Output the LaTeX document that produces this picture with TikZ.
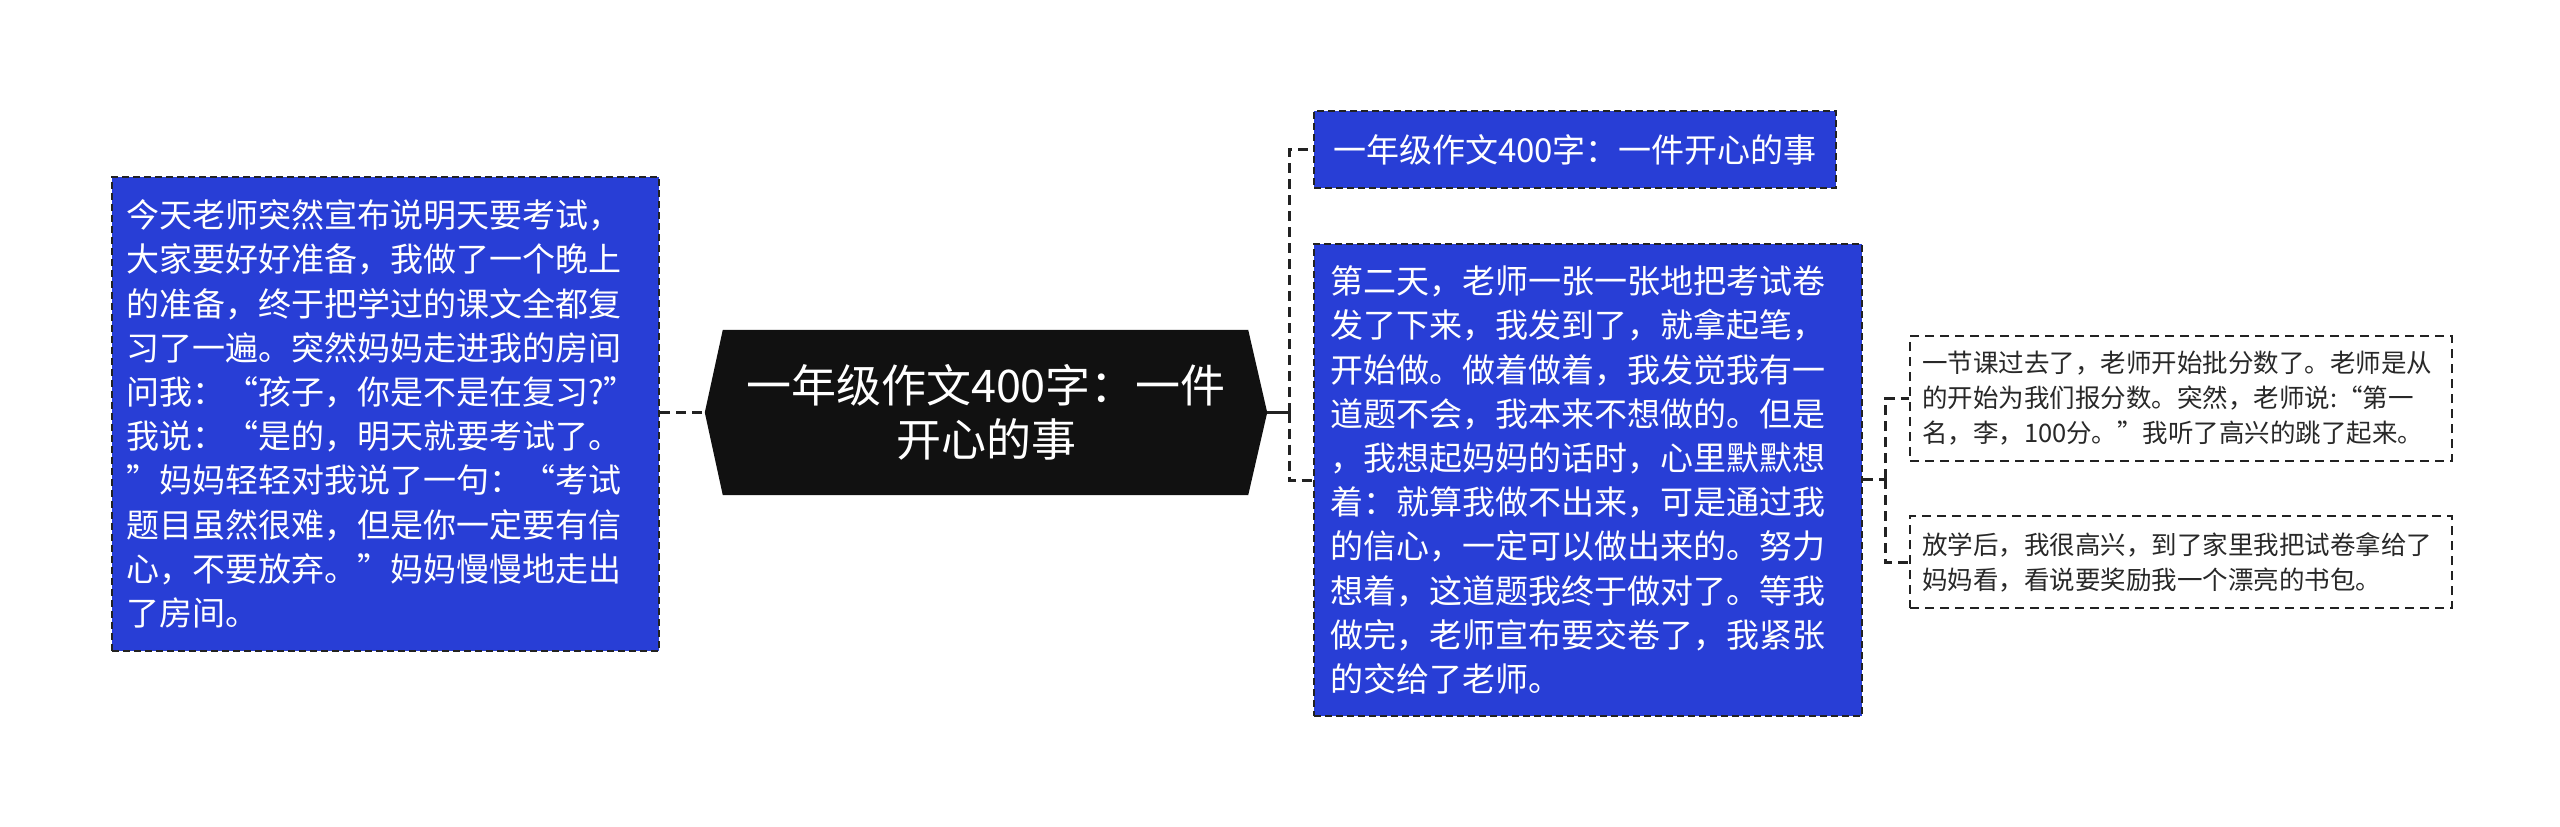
\documentclass[tikz,border=0pt]{standalone}
\usepackage{fontspec}
\setmainfont{Noto Sans CJK SC}
\usetikzlibrary{calc,backgrounds}
\definecolor{boxblue}{RGB}{40,62,214}
\definecolor{centerfill}{RGB}{17,17,17}
\definecolor{linegray}{RGB}{34,34,34}
\definecolor{smalltext}{RGB}{40,40,40}
\begin{document}
\begin{tikzpicture}[x=1pt,y=-1pt,
  bluebox/.style={draw=linegray, fill=boxblue, text=white, line width=2pt,
    dash pattern=on 7pt off 4pt, anchor=north west, inner ysep=0pt,
    font=\fontsize{33pt}{44.2pt}\selectfont, align=left},
  smallbox/.style={draw=linegray, fill=white, text=smalltext, line width=2pt,
    dash pattern=on 9pt off 6pt, anchor=north west, inner ysep=0pt,
    font=\fontsize{25.5pt}{35pt}\selectfont, align=left},
  centernode/.style={text=white, inner sep=0pt, align=center,
    font=\fontsize{45pt}{54pt}\selectfont},
  conn/.style={draw=linegray, line width=3pt, dash pattern=on 10pt off 6pt},
  solidconn/.style={draw=linegray, line width=3pt}
]
\begin{pgfonlayer}{background}
\fill[white] (0,0) rectangle (2560,827);
\end{pgfonlayer}
\useasboundingbox (0,0) rectangle (2560,827);

% left box
\node[bluebox, text width=519pt, inner xsep=14pt, minimum height=474pt] (left) at (111,176)
{今天老师突然宣布说明天要考试，\\
大家要好好准备，我做了一个晚上\\
的准备，终于把学过的课文全都复\\
习了一遍。突然妈妈走进我的房间\\
问我：“孩子，你是不是在复习?”\\
我说：“是的，明天就要考试了。\\
”妈妈轻轻对我说了一句：“考试\\
题目虽然很难，但是你一定要有信\\
心，不要放弃。”妈妈慢慢地走出\\
了房间。};

% center node
\node[centernode, minimum width=562pt, minimum height=165pt] (c) at (986,412.5)
{一年级作文400字：一件\\开心的事};
\begin{pgfonlayer}{background}
\fill[centerfill] (c.west) -- ($(c.north west)+(18,0)$) -- ($(c.north east)+(-19,0)$)
  -- (c.east) -- ($(c.south east)+(-19,0)$) -- ($(c.south west)+(18,0)$) -- cycle;
\end{pgfonlayer}

% right top box
\node[bluebox, text width=494pt, inner xsep=14pt, minimum height=77pt, align=center] (top) at (1313,110)
{一年级作文400字：一件开心的事};

% right middle box
\node[bluebox, text width=516pt, inner xsep=16pt, minimum height=472pt] (mid) at (1313,243)
{第二天，老师一张一张地把考试卷\\
发了下来，我发到了，就拿起笔，\\
开始做。做着做着，我发觉我有一\\
道题不会，我本来不想做的。但是\\
，我想起妈妈的话时，心里默默想\\
着：就算我做不出来，可是通过我\\
的信心，一定可以做出来的。努力\\
想着，这道题我终于做对了。等我\\
做完，老师宣布要交卷了，我紧张\\
的交给了老师。};

% small boxes
\node[smallbox, text width=518pt, inner xsep=12pt, minimum height=125pt] (s1) at (1909,335)
{一节课过去了，老师开始批分数了。老师是从\\
的开始为我们报分数。突然，老师说:“第一\\
名，李，100分。”我听了高兴的跳了起来。};
\node[smallbox, text width=518pt, inner xsep=12pt, minimum height=92pt] (s2) at (1909,515)
{放学后，我很高兴，到了家里我把试卷拿给了\\
妈妈看，看说要奖励我一个漂亮的书包。};

% connectors
\coordinate (j1) at (1289,412.5);
\coordinate (j2) at (1885,479);
\draw[conn] (left.east |- c.west) -- (c.west);
\draw[solidconn] (c.east) -- (j1);
\draw[conn] (j1) |- (top.west);
\draw[conn] (j1) |- (mid.west);
\draw[conn] (mid.east |- j2) -- (j2);
\draw[conn] (j2) |- (s1.west);
\draw[conn] (j2) |- (s2.west);
\end{tikzpicture}
\end{document}
